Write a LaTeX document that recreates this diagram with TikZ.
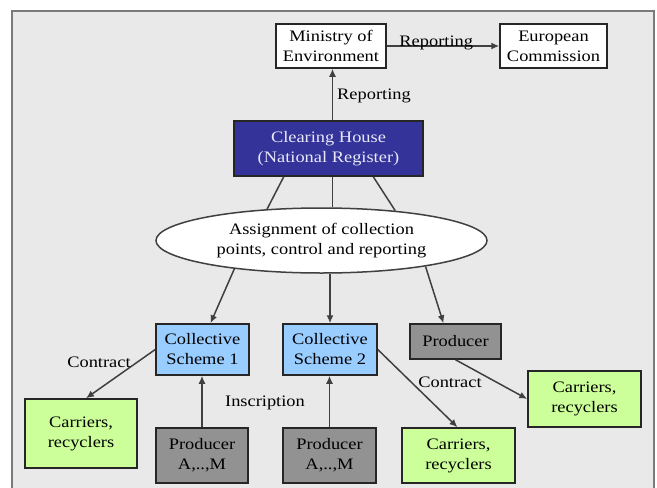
\documentclass[tikz,border=0pt]{standalone}
\usepackage{fontspec}
\setmainfont{Liberation Serif}
\usetikzlibrary{arrows.meta,shapes.geometric,calc}
\definecolor{panelbg}{HTML}{E9E9E9}
\definecolor{panelline}{HTML}{7A7A7A}
\definecolor{chblue}{HTML}{333399}
\definecolor{chtext}{HTML}{E8E8FA}
\definecolor{csblue}{HTML}{99CCFF}
\definecolor{prodgray}{HTML}{929292}
\definecolor{cargreen}{HTML}{CCFF99}
\definecolor{conn}{HTML}{404040}
\newcommand{\wtxt}[1]{\scalebox{1.15}[1]{#1}}
\tikzset{
  box/.style={draw=black!85, line width=1.5pt, inner sep=0pt, align=center,
    font=\rmfamily\fontsize{16}{20}\selectfont},
  whitebox/.style={box, fill=white},
  chbox/.style={box, fill=chblue, text=chtext},
  csbox/.style={box, fill=csblue},
  prodbox/.style={box, fill=prodgray},
  carbox/.style={box, fill=cargreen},
  link/.style={draw=conn, line width=1.5pt},
  arr/.style={link, -{Latex[length=8pt,width=7pt]}},
  lbl/.style={inner sep=0pt, font=\rmfamily\fontsize{16}{20}\selectfont},
}
\begin{document}
\begin{tikzpicture}[x=1pt,y=-1pt]
\useasboundingbox (0,0) rectangle (657,488);
\fill[white] (0,0) rectangle (657,488);
\draw[panelline, line width=2pt, fill=panelbg] (12,11) rectangle (654,500);

\node[whitebox, minimum width=110pt, minimum height=44pt] (min) at (331,46) {\wtxt{Ministry of}\\\wtxt{Environment}};
\node[whitebox, minimum width=107pt, minimum height=44pt] (eur) at (553.5,46) {\wtxt{European}\\\wtxt{Commission}};
\node[chbox, minimum width=189pt, minimum height=55pt] (ch) at (328.5,148.5) {\wtxt{Clearing House}\\\wtxt{(National Register)}};
\node[ellipse, draw=conn, line width=1.5pt, fill=white, inner sep=0pt,
  minimum width=331pt, minimum height=65pt, align=center,
  font=\rmfamily\fontsize{16}{20}\selectfont] (ell) at (321.5,240.5)
  {\wtxt{Assignment of collection}\\\wtxt{points, control and reporting}};
\node[csbox, minimum width=93pt, minimum height=51pt] (cs1) at (202.5,349.5) {\wtxt{Collective}\\\wtxt{Scheme 1}};
\node[csbox, minimum width=94pt, minimum height=51pt] (cs2) at (330,349.5) {\wtxt{Collective}\\\wtxt{Scheme 2}};
\node[prodbox, minimum width=91pt, minimum height=35pt] (prod) at (455.5,341.5) {\wtxt{Producer}};
\node[carbox, minimum width=113pt, minimum height=56pt] (carr) at (584.5,399) {\wtxt{Carriers,}\\\wtxt{recyclers}};
\node[carbox, minimum width=113pt, minimum height=55pt] (carm) at (458.5,455.5) {\wtxt{Carriers,}\\\wtxt{recyclers}};
\node[carbox, minimum width=112pt, minimum height=69pt] (carl) at (81,433.5) {\wtxt{Carriers,}\\\wtxt{recyclers}};
\node[prodbox, minimum width=92pt, minimum height=55pt] (pl) at (202,455.5) {\wtxt{Producer}\\\wtxt{A,..,M}};
\node[prodbox, minimum width=93pt, minimum height=55pt] (pr) at (329.5,455.5) {\wtxt{Producer}\\\wtxt{A,..,M}};

% reporting arrows
\draw[arr] (min.east) -- node[lbl, pos=0.44, anchor=base] (rep1) {\wtxt{Reporting}} (eur.west);
\coordinate (chtop) at ($(ch.north)+(4,0)$);
\draw[arr] (chtop) -- (chtop |- min.south);
\node[lbl, anchor=west] (rep2) at (337,96) {\wtxt{Reporting}};

% clearing house to ellipse
\draw[link] ($(ch.south west)!0.265!(ch.south east)$) -- (ell.150);
\coordinate (chbot) at ($(ch.south)+(4,0)$);
\draw[link] (chbot) -- (chbot |- ell.north);
\draw[link] ($(ch.south west)!0.735!(ch.south east)$) -- (ell.22);

% ellipse to schemes
\draw[arr] (ell.198) -- ($(cs1.north)+(8,0)$);
\draw[arr] (ell.south -| cs2.north) -- (cs2.north);
\draw[arr] (ell.-14) -- ($(prod.north)+(-12,0)$);

% contracts
\draw[arr] (cs1.west) -- ($(carl.north)+(5,0)$);
\node[lbl] (con1) at (99,362) {\wtxt{Contract}};
\draw[arr] (cs2.east) -- ($(carm.north)+(-1,0)$);
\node[lbl] (con2) at (450,382) {\wtxt{Contract}};
\draw[arr] (prod.south) -- (carr.west);

% inscriptions
\draw[arr] (pl.north) -- (pl.north |- cs1.south);
\draw[arr] (pr.north) -- (pr.north |- cs2.south);
\node[lbl] (ins) at (265,403) {\wtxt{Inscription}};
\end{tikzpicture}
\end{document}
